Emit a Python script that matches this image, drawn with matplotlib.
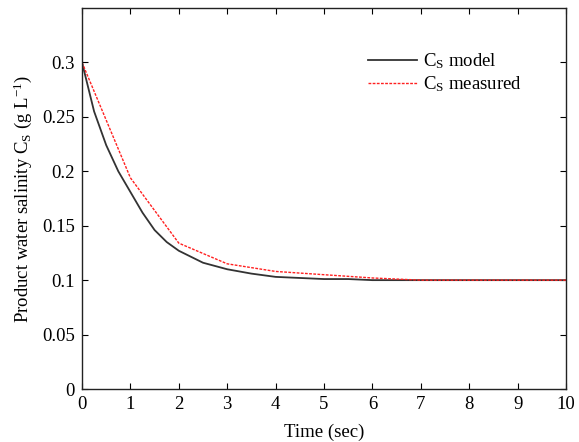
import matplotlib
matplotlib.use("Agg")
import matplotlib.pyplot as plt

plt.rcParams['font.family'] = ['Liberation Serif', 'DejaVu Serif']
plt.rcParams['mathtext.fontset'] = 'custom'
plt.rcParams['mathtext.rm'] = 'Liberation Serif'
plt.rcParams['mathtext.it'] = 'Liberation Serif:italic'

t_model = [0, 0.25, 0.5, 0.75, 1.0, 1.25, 1.5, 1.75, 2.0, 2.5, 3.0, 3.5, 4.0, 4.5, 5.0, 5.5, 6.0, 7.0, 8.0, 9.0, 10.0]
cs_model = [0.3, 0.255, 0.224, 0.2, 0.181, 0.162, 0.146, 0.135, 0.127, 0.116, 0.110, 0.106, 0.103, 0.102, 0.101, 0.101, 0.1, 0.1, 0.1, 0.1, 0.1]

t_meas = [0, 1, 2, 3, 4, 5, 6, 7, 8, 9, 10]
cs_meas = [0.3, 0.194, 0.134, 0.115, 0.108, 0.105, 0.102, 0.1, 0.1, 0.1, 0.1]

xticks = [0, 1, 2, 3, 4, 5, 6, 7, 8, 9, 10]
yticks = [0, 0.05, 0.1, 0.15, 0.2, 0.25, 0.3]
yticklabels = ['0', '0.05', '0.1', '0.15', '0.2', '0.25', '0.3']

FS = 13.5

fig = plt.figure(figsize=(5.79, 4.42), dpi=100)
ax = fig.add_axes([82/579, 53/442, (566-82)/579, (389-8)/442])

ax.plot(t_model, cs_model, color='#333333', lw=1.3, label=r'C$_\mathrm{S}$ model')
ax.plot(t_meas, cs_meas, color='#ff2020', lw=1.0, ls=(0, (2, 1)), label=r'C$_\mathrm{S}$ measured')

ax.set_xlim(0, 10)
ax.set_ylim(0, 0.35)
ax.set_xticks(xticks)
ax.set_yticks(yticks)
ax.set_yticklabels(yticklabels)
ax.tick_params(direction='in', top=True, right=True, labelsize=FS, length=4, width=0.8, pad=5)
for s in ax.spines.values():
    s.set_linewidth(1.0)
    s.set_color('#222222')

ax.set_xlabel('Time (sec)', fontsize=FS, labelpad=8)
ax.set_ylabel(r'Product water salinity C$_\mathrm{S}$ (g L$^{-1}$)', fontsize=FS, labelpad=6)

leg = ax.legend(loc='upper left', bbox_to_anchor=(0.572, 0.91), frameon=False, fontsize=FS,
                handlelength=2.6, handletextpad=0.3, labelspacing=0.15, borderpad=0)

fig.savefig('out.png', dpi=100)
